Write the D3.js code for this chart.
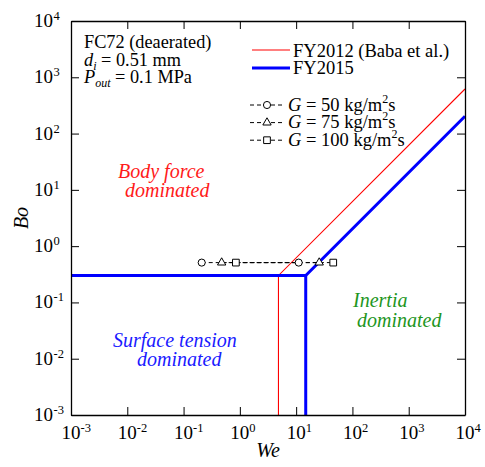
<!DOCTYPE html>
<html>
<head>
<meta charset="utf-8">
<script src="https://cdn.jsdelivr.net/npm/d3@7"></script>
<style>
    body { margin: 0; background: #fff; }
</style>
</head>
<body>
<svg id="chart" width="485" height="467" font-family="'Liberation Serif', 'Times New Roman', Times, serif"></svg>
<script>
// decades shown on both axes
const xExponents = [-3, -2, -1, 0, 1, 2, 3, 4];
const yExponents = [-3, -2, -1, 0, 1, 2, 3, 4];

// flow regime boundaries, [We, Bo]
const fy2012 = [[1e-3, 0.3], [4.85, 0.3], [1e4, 619]];
const fy2012Wall = [[4.85, 1e-3], [4.85, 0.3]];
const fy2015 = [[1e-3, 0.3], [14.8, 0.3], [1e4, 203]];
const fy2015Wall = [[14.8, 1e-3], [14.8, 0.3]];

// measured points for each mass flux
const massFlux = [50, 75, 100];
const weLow = [0.21, 0.475, 0.85];
const weHigh = [11.1, 25.7, 45.6];
const boMeasured = [0.51, 0.51, 0.51];
const symbols = [d3.symbolCircle, d3.symbolTriangle, d3.symbolSquare];
const symbolSizes = [40, 30, 45];

const serif = "'Liberation Serif', 'Times New Roman', Times, serif";

const x = d3.scaleLog().domain([1e-3, 1e4]).range([71, 465]);
const y = d3.scaleLog().domain([1e-3, 1e4]).range([415, 21]);

const svg = d3.select("#chart");

const line = d3.line()
    .x(d => x(d[0]))
    .y(d => y(d[1]));

// boundaries: red thin below, blue thick above
svg.append("g")
    .selectAll("path")
    .data([fy2012, fy2012Wall])
    .join("path")
    .attr("d", line)
    .attr("fill", "none")
    .attr("stroke", "#ff0000")
    .attr("stroke-width", 1.1);

svg.append("g")
    .selectAll("path")
    .data([fy2015, fy2015Wall])
    .join("path")
    .attr("d", line)
    .attr("fill", "none")
    .attr("stroke", "#0000ff")
    .attr("stroke-width", 3);

// dashed connecting lines
const pts = massFlux.map((g, i) => ({
    i: i,
    pts: [[weLow[i], boMeasured[i]], [weHigh[i], boMeasured[i]]]
}));

svg.append("g")
    .selectAll("path")
    .data(pts)
    .join("path")
    .attr("d", d => line(d.pts))
    .attr("fill", "none")
    .attr("stroke", "#000")
    .attr("stroke-width", 1)
    .attr("stroke-dasharray", "4,3");

// markers
svg.append("g")
    .selectAll("path")
    .data(pts.flatMap(d => d.pts.map(p => ({i: d.i, p: p}))))
    .join("path")
    .attr("transform", d => `translate(${x(d.p[0])},${y(d.p[1])})`)
    .attr("d", d => d3.symbol(symbols[d.i], symbolSizes[d.i])())
    .attr("fill", "#fff")
    .attr("stroke", "#000")
    .attr("stroke-width", 1);

// frame with inward ticks
const xTicks = xExponents.map(e => Math.pow(10, e));
const yTicks = yExponents.map(e => Math.pow(10, e));

const axes = [
    [d3.axisBottom(x).tickValues(xTicks), `translate(0,${y.range()[0]})`],
    [d3.axisTop(x).tickValues(xTicks), `translate(0,${y.range()[1]})`],
    [d3.axisLeft(y).tickValues(yTicks), `translate(${x.range()[0]},0)`],
    [d3.axisRight(y).tickValues(yTicks), `translate(${x.range()[1]},0)`]
];

axes.forEach(([axis, tr]) => {
    const g = svg.append("g")
        .attr("transform", tr)
        .call(axis.tickSizeInner(-8).tickSizeOuter(0).tickFormat(""));
    g.select(".domain").attr("stroke", "#000").attr("stroke-width", 1.3);
    g.selectAll(".tick line").attr("stroke", "#000").attr("stroke-width", 1);
});

// all text below goes in one serif group
const txt = svg.append("g")
    .attr("font-family", serif)
    .attr("fill", "#000");

// tick labels 10^n
const xLab = txt.append("g").selectAll("g").data(xExponents).join("g");
xLab.append("text")
    .attr("x", e => x(Math.pow(10, e)))
    .attr("y", 439)
    .attr("text-anchor", "middle")
    .attr("font-size", 19)
    .text("10");
xLab.append("text")
    .attr("x", e => x(Math.pow(10, e)) + 9.5)
    .attr("y", 432)
    .attr("font-size", 12.5)
    .text(e => e);

const yLab = txt.append("g").selectAll("g").data(yExponents).join("g");
yLab.append("text")
    .attr("x", 53)
    .attr("y", e => y(Math.pow(10, e)) + 6)
    .attr("text-anchor", "end")
    .attr("font-size", 19)
    .text("10");
yLab.append("text")
    .attr("x", 53.5)
    .attr("y", e => y(Math.pow(10, e)) - 1)
    .attr("font-size", 12.5)
    .text(e => e);

// axis titles
txt.append("text")
    .attr("x", 268)
    .attr("y", 457)
    .attr("text-anchor", "middle")
    .attr("font-size", 20)
    .attr("font-style", "italic")
    .text("We");

txt.append("text")
    .attr("transform", "translate(28,218) rotate(-90)")
    .attr("text-anchor", "middle")
    .attr("font-size", 20)
    .attr("font-style", "italic")
    .text("Bo");

// conditions
const cond = txt.append("g").attr("font-size", 18.3);
cond.append("text").attr("x", 84).attr("y", 48).text("FC72 (deaerated)");
const di = cond.append("text").attr("x", 84).attr("y", 65.5);
di.append("tspan").attr("font-style", "italic").text("d");
di.append("tspan").attr("font-style", "italic").attr("font-size", 12).attr("dy", 4).text("i");
di.append("tspan").attr("dy", -4).text(" = 0.51 mm");
const pout = cond.append("text").attr("x", 84).attr("y", 83);
pout.append("tspan").attr("font-style", "italic").text("P");
pout.append("tspan").attr("font-style", "italic").attr("font-size", 12).attr("dy", 4).text("out");
pout.append("tspan").attr("dy", -4).text(" = 0.1 MPa");

// legend
const legend = txt.append("g").attr("font-size", 18.5);
legend.append("line")
    .attr("x1", 252).attr("x2", 290).attr("y1", 50).attr("y2", 50)
    .attr("stroke", "#ff0000").attr("stroke-width", 1.1);
legend.append("text").attr("x", 293).attr("y", 56.5).text("FY2012 (Baba et al.)");
legend.append("line")
    .attr("x1", 252).attr("x2", 290).attr("y1", 68).attr("y2", 68)
    .attr("stroke", "#0000ff").attr("stroke-width", 3);
legend.append("text").attr("x", 293).attr("y", 74).text("FY2015");

massFlux.forEach((g, i) => {
    const yy = 105 + i * 17.6;
    legend.append("line")
        .attr("x1", 250).attr("x2", 285).attr("y1", yy).attr("y2", yy)
        .attr("stroke", "#000").attr("stroke-width", 1)
        .attr("stroke-dasharray", "4,3");
    legend.append("path")
        .attr("transform", `translate(267,${yy})`)
        .attr("d", d3.symbol(symbols[i], symbolSizes[i])())
        .attr("fill", "#fff").attr("stroke", "#000");
    const t = legend.append("text").attr("x", 288).attr("y", yy + 5.5);
    t.append("tspan").attr("font-style", "italic").text("G");
    t.append("tspan").text(` = ${g} kg/m`);
    t.append("tspan").attr("font-size", 12).attr("dy", -8).text("2");
    t.append("tspan").attr("dy", 8).text("s");
});

// regime labels
const regions = [
    {text: "Body force", x: 118, y: 178, color: "#ff1a1a"},
    {text: "dominated", x: 125, y: 197, color: "#ff1a1a"},
    {text: "Inertia", x: 353, y: 307, color: "#1e961e"},
    {text: "dominated", x: 357, y: 327, color: "#1e961e"},
    {text: "Surface tension", x: 113, y: 347, color: "#1a1aff"},
    {text: "dominated", x: 137, y: 366, color: "#1a1aff"}
];

txt.append("g")
    .selectAll("text")
    .data(regions)
    .join("text")
    .attr("x", d => d.x)
    .attr("y", d => d.y)
    .attr("font-size", 20)
    .attr("font-style", "italic")
    .attr("fill", d => d.color)
    .text(d => d.text);
</script>
</body>
</html>
